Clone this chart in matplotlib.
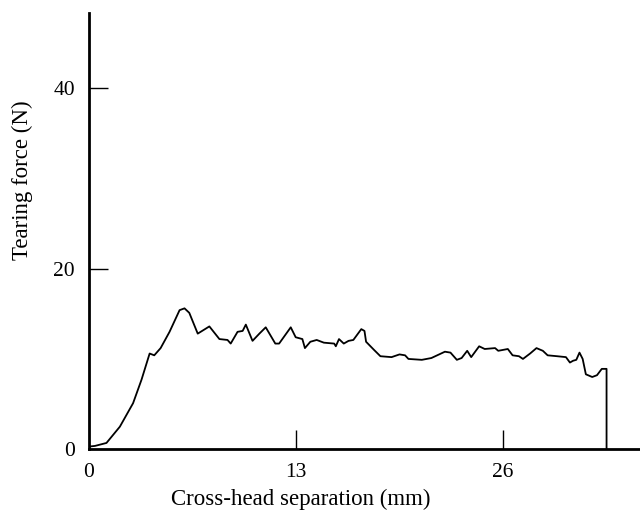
import matplotlib.pyplot as plt
import numpy as np

# Tearing force trace
separation_mm = [
    0.0, 0.375, 1.1, 1.94, 2.77, 3.3, 3.81, 4.1, 4.5, 5.06, 5.69, 6.0, 6.3,
    6.83, 7.56, 8.19, 8.7, 8.9, 9.33, 9.65, 9.85, 10.27, 10.7, 11.1, 11.7,
    11.94, 12.67, 12.98, 13.4, 13.56, 13.9, 14.3, 14.75, 15.4, 15.5, 15.7,
    16.0, 16.3, 16.6, 17.1, 17.3, 17.4, 17.9, 18.3, 19.0, 19.5, 19.85, 20.06,
    20.9, 21.5, 22.35, 22.7, 23.1, 23.4, 23.75, 24.0, 24.5, 24.85, 25.5,
    25.7, 26.3, 26.6, 27.0, 27.25, 27.7, 28.1, 28.5, 28.8, 29.4, 29.95,
    30.2, 30.4, 30.6, 30.8, 31.0, 31.2, 31.6, 31.9, 32.2, 32.5, 32.5,
]
force_n = [
    0.3, 0.37, 0.7, 2.5, 5.1, 7.7, 10.6, 10.4, 11.2, 13.0, 15.4, 15.6, 15.1,
    12.8, 13.6, 12.2, 12.1, 11.7, 13.0, 13.1, 13.8, 12.0, 12.8, 13.5, 11.7,
    11.7, 13.5, 12.4, 12.2, 11.2, 11.9, 12.1, 11.8, 11.7, 11.4, 12.2,
    11.7, 12.0, 12.1, 13.3, 13.1, 11.9, 11.0, 10.3, 10.2, 10.5, 10.4, 10.0,
    9.9, 10.1, 10.8, 10.7, 9.9, 10.1, 10.9, 10.2, 11.4, 11.1, 11.2,
    10.9, 11.1, 10.4, 10.3, 10.0, 10.6, 11.2, 10.9, 10.4, 10.3, 10.2,
    9.6, 9.8, 9.9, 10.7, 10.0, 8.3, 8.0, 8.2, 8.9, 8.9, 0.0,
]
x_ticks = [0, 13, 26]
y_ticks = [0, 20, 40]

plt.rcParams["font.family"] = ["Liberation Serif", "DejaVu Serif"]

fig = plt.figure(figsize=(6.4, 5.17), dpi=100)
ax = fig.add_axes([0.139, 0.131, 0.861, 0.844])

ax.plot(separation_mm, force_n, color="black", lw=1.3)

ax.set_xlim(0, 34.6)
ax.set_ylim(0, 48.3)
ax.set_xticks(x_ticks)
ax.set_yticks(y_ticks)
ax.tick_params(direction="in", length=14, width=1.0, labelsize=15.5, pad=10)
ax.tick_params(axis="x", pad=10)
for t in ax.xaxis.get_major_ticks()[:1] + ax.yaxis.get_major_ticks()[:1]:
    t.tick1line.set_visible(False)

ax.spines["top"].set_visible(False)
ax.spines["right"].set_visible(False)
for s in ("left", "bottom"):
    ax.spines[s].set_linewidth(2.0)

# labels in the original are not centred on the axes
ax.set_xlabel("Cross-head separation (mm)", fontsize=16.5, labelpad=5, x=0.385)
ax.set_ylabel("Tearing force (N)", fontsize=16.5, labelpad=15, y=0.617)

fig.savefig("out.png", dpi=100)
